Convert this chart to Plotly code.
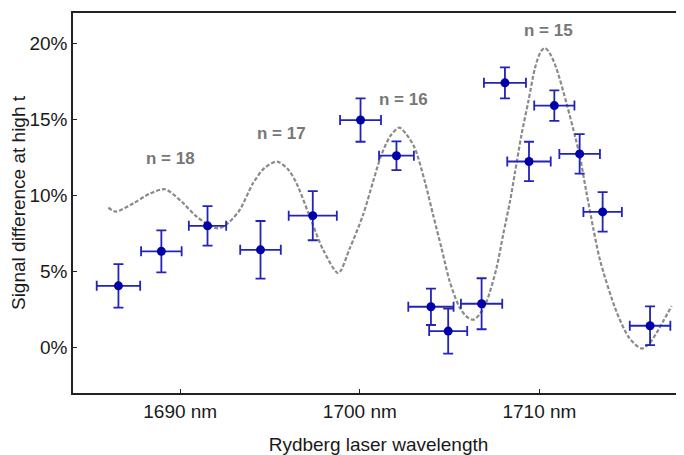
import plotly.graph_objects as go

# Measured data points
wavelength = [1686.56, 1688.95, 1691.52, 1694.47, 1697.38, 1700.04, 1702.04, 1703.96,
              1704.92, 1706.78, 1708.08, 1709.42, 1710.83, 1712.24, 1713.52, 1716.16]
signal = [4.03, 6.30, 7.98, 6.40, 8.65, 14.95, 12.60, 2.65,
          1.05, 2.85, 17.40, 12.22, 15.90, 12.72, 8.90, 1.40]
signal_err = [1.43, 1.38, 1.30, 1.90, 1.62, 1.43, 0.95, 1.20,
              1.48, 1.68, 1.02, 1.30, 1.00, 1.30, 1.30, 1.27]
wavelength_err = [1.21, 1.13, 1.04, 1.13, 1.34, 1.14, 0.97, 1.26,
                  1.06, 1.15, 1.17, 1.21, 1.12, 1.13, 1.07, 1.13]

# Theory curve
curve_x = [1686.0, 1686.4, 1687.4, 1688.3, 1689.15, 1690.1, 1690.9, 1691.9, 1692.2, 1692.7,
           1693.3, 1694.06, 1694.7, 1695.39, 1696.0, 1696.47, 1697.21, 1697.96, 1698.8,
           1699.44, 1700.18, 1700.74, 1701.2, 1701.7, 1702.19, 1702.6, 1703.06, 1703.62,
           1704.08, 1704.55, 1705.01, 1705.57, 1706.0, 1706.33, 1706.7, 1707.06, 1707.61,
           1707.98, 1708.36, 1708.64, 1709.0, 1709.38, 1709.75, 1710.05, 1710.31, 1710.6,
           1710.96, 1711.52, 1712.0, 1712.26, 1712.6, 1713.0, 1713.4, 1714.3, 1715.0,
           1715.69, 1716.1, 1716.53, 1717.36]
curve_y = [9.18, 8.92, 9.47, 10.1, 10.39, 9.55, 8.6, 7.85, 7.83, 8.2,
           9.0, 10.8, 11.8, 12.21, 11.7, 10.8, 8.6, 6.4, 4.87,
           6.5, 8.7, 10.9, 12.65, 13.9, 14.45, 14.0, 13.1, 10.9,
           8.7, 6.5, 4.3, 2.57, 1.95, 1.8, 2.2, 3.0, 5.2,
           7.4, 9.58, 11.5, 13.97, 16.16, 18.36, 19.4, 19.7, 19.3,
           18.3, 16.0, 13.8, 12.5, 10.3, 7.8, 5.6, 2.3, 0.6,
           -0.1, 0.2, 0.95, 2.7]

labels = ["n = 18", "n = 17", "n = 16", "n = 15"]
label_x = [1689.47, 1695.65, 1702.45, 1710.53]
label_y = [12.39, 14.09, 16.27, 20.88]

x_ticks = [1690, 1700, 1710]
x_ticktext = ["1690 nm", "1700 nm", "1710 nm"]
y_ticks = [0, 5, 10, 15, 20]
y_ticktext = ["0%", "5%", "10%", "15%", "20%"]

fig = go.Figure()
fig.add_trace(go.Scatter(
    x=curve_x, y=curve_y, mode="lines",
    line=dict(color="#8a8a8a", width=2.2, dash="4px,2px", shape="spline", smoothing=0.8),
    hoverinfo="skip", showlegend=False))
fig.add_trace(go.Scatter(
    x=wavelength, y=signal, mode="markers",
    marker=dict(color="#0000a8", size=9),
    error_y=dict(type="data", array=signal_err, color="#2323b8", thickness=1.8, width=5),
    error_x=dict(type="data", array=wavelength_err, color="#2323b8", thickness=1.8, width=5),
    showlegend=False))

for t, xx, yy in zip(labels, label_x, label_y):
    fig.add_annotation(x=xx, y=yy, text=t, showarrow=False,
                       font=dict(family="Liberation Sans", size=17, color="#777777", weight="bold"))

# page body adds an 8px offset, so the figure is sized to end at the window edge
fig.update_layout(
    width=676, height=447,
    margin=dict(l=65, r=0, t=5, b=62),
    paper_bgcolor="white", plot_bgcolor="white",
    font=dict(family="Liberation Sans", size=19, color="#1a1a1a"),
    xaxis=dict(range=[1684.03, 1718.05], tickvals=x_ticks, ticktext=x_ticktext,
               showgrid=False, zeroline=False, showline=True, mirror=True,
               linecolor="#222222", linewidth=1.5, ticks="inside", ticklen=4,
               tickcolor="#222222", tickwidth=1, automargin=False,
               title=dict(text="Rydberg laser wavelength", standoff=18,
                          font=dict(size=19))),
    yaxis=dict(range=[-3.03, 22.0], tickvals=y_ticks, ticktext=y_ticktext,
               showgrid=False, zeroline=False, showline=True, mirror=False,
               linecolor="#222222", linewidth=1.5, ticks="inside", ticklen=4,
               tickcolor="#222222", tickwidth=1, ticklabelstandoff=0, automargin=False,
               title=dict(text="Signal difference at high t", standoff=1,
                          font=dict(size=19))),
)

fig.write_html("out.html")
